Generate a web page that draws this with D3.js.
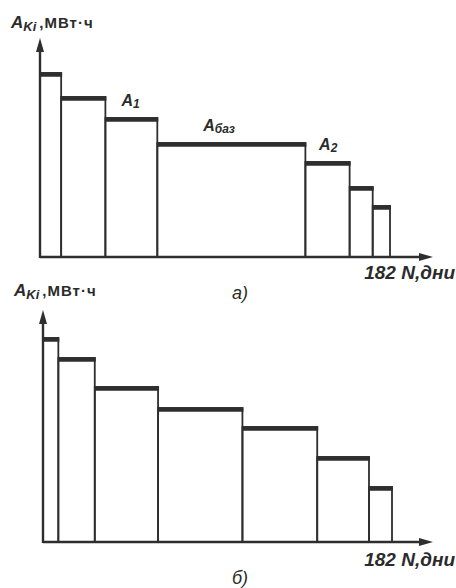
<!DOCTYPE html>
<html>
<head>
<meta charset="utf-8">
<script src="https://cdn.jsdelivr.net/npm/d3@7"></script>
<style>
  html, body { margin: 0; padding: 0; background: #fff; }
  svg { display: block; }
  text { font-family: "Liberation Sans", "DejaVu Sans", sans-serif; fill: #2b2b2b; }
</style>
</head>
<body>
<script>
// ---- data (widths in days, heights in relative energy units) ----
const totalDays = 182;
const daysA = [11, 23, 27, 77, 23, 12, 9];
const valuesA = [92, 80, 69.5, 57, 47.5, 35, 25.5];
const labelsA = ["", "", "A1", "Aбаз", "A2", "", ""];
const daysB = [8, 19, 33, 44, 39, 27, 12];
const valuesB = [102, 92, 77.5, 67, 57.5, 42.5, 27.5];
const yLabel = { main: "A", sub: "Ki", unit: ",МВт·ч" };
const xLabel = "182 N,дни";
const panelTitles = ["а)", "б)"];

const W = 456, H = 588;
const ink = "#2e2e2e";
const svg = d3.select("body").append("svg").attr("width", W).attr("height", H);

function panel(cfg) {
  const g = svg.append("g");
  const x = d3.scaleLinear().domain([0, totalDays]).range([cfg.x0, cfg.x1]);
  const y = d3.scaleLinear().domain([0, cfg.yMax]).range([cfg.base, cfg.top]);
  const ends = d3.cumsum(cfg.days);
  const bars = cfg.days.map((d, i) => ({
    start: ends[i] - d, end: ends[i], v: cfg.values[i], i
  }));

  // bar outlines
  g.selectAll("rect.bar").data(bars).join("rect")
    .attr("class", "bar")
    .attr("x", d => x(d.start))
    .attr("y", d => y(d.v))
    .attr("width", d => x(d.end) - x(d.start))
    .attr("height", d => y(0) - y(d.v))
    .attr("fill", "none")
    .attr("stroke", ink)
    .attr("stroke-width", 1.8);

  // thick top lines
  g.selectAll("line.top").data(bars).join("line")
    .attr("class", "top")
    .attr("x1", d => x(d.start))
    .attr("x2", d => x(d.end) + 1)
    .attr("y1", d => y(d.v) + 1.5)
    .attr("y2", d => y(d.v) + 1.5)
    .attr("stroke", ink)
    .attr("stroke-width", 4.5);

  // axes
  const ax = x(0), ay = y(0);
  const xTip = x(totalDays) + cfg.xExtra;
  const yTip = cfg.top;
  g.append("line").attr("x1", ax).attr("x2", xTip - 10).attr("y1", ay).attr("y2", ay)
    .attr("stroke", ink).attr("stroke-width", 2.4);
  g.append("path").attr("d", `M${xTip},${ay} L${xTip - 14},${ay - 4} L${xTip - 14},${ay + 4} Z`).attr("fill", ink);
  g.append("line").attr("x1", ax).attr("x2", ax).attr("y1", ay + 1).attr("y2", yTip + 10)
    .attr("stroke", ink).attr("stroke-width", 2.4);
  g.append("path").attr("d", `M${ax},${yTip} L${ax - 4},${yTip + 14} L${ax + 4},${yTip + 14} Z`).attr("fill", ink);

  // y label
  const yl = g.append("text").attr("x", cfg.ylx).attr("y", cfg.yly)
    .attr("font-weight", "bold");
  yl.append("tspan").attr("font-style", "italic").attr("font-size", 17).text(yLabel.main);
  yl.append("tspan").attr("font-style", "italic").attr("font-size", 13).attr("dy", 3).text(yLabel.sub);
  yl.append("tspan").attr("dy", -3).attr("dx", 3).attr("font-size", 15)
    .attr("letter-spacing", 1).text(yLabel.unit);

  // x label
  g.append("text").attr("x", 455).attr("y", cfg.xly).attr("text-anchor", "end")
    .attr("font-size", 19).attr("font-weight", "bold").attr("font-style", "italic")
    .text(xLabel);

  // panel title
  g.append("text").attr("x", 240).attr("y", cfg.ty).attr("text-anchor", "middle")
    .attr("font-size", 18).attr("font-style", "italic").text(cfg.title);

  // bar labels
  if (cfg.labels) {
    const lab = bars.filter(d => cfg.labels[d.i]);
    const t = g.selectAll("text.bl").data(lab).join("text")
      .attr("class", "bl")
      .attr("font-weight", "bold").attr("font-style", "italic")
      .attr("x", d => x(d.start) + (x(d.end) - x(d.start)) * 0.31)
      .attr("y", d => y(d.v) - 12);
    t.append("tspan").attr("font-size", 16).text(d => cfg.labels[d.i][0]);
    t.append("tspan").attr("font-size", 12).attr("dy", 2).text(d => cfg.labels[d.i].slice(1));
  }
}

panel({ days: daysA, values: valuesA, labels: labelsA, x0: 40, x1: 390, base: 257, top: 38,
        yMax: 109.5, xExtra: 43, ylx: 11, yly: 28, xly: 279, ty: 299, title: panelTitles[0] });
panel({ days: daysB, values: valuesB, labels: null, x0: 43, x1: 392, base: 542, top: 310,
        yMax: 116, xExtra: 41, ylx: 14, yly: 296, xly: 566, ty: 584, title: panelTitles[1] });
</script>
</body>
</html>
